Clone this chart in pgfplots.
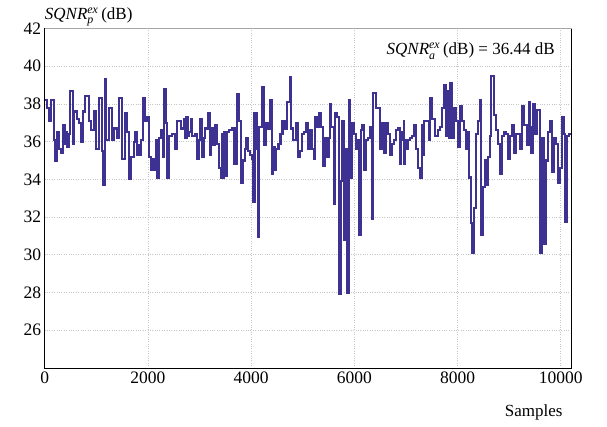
\documentclass[border=0pt]{standalone}
\usepackage{fontspec}
\setmainfont{Liberation Serif}
\usepackage{amsmath}
\usepackage{pgfplots}
\pgfplotsset{compat=1.18}
\definecolor{sqnrline}{RGB}{61,50,145}

\begin{document}
\begin{tikzpicture}[font=\fontsize{17bp}{20bp}\selectfont]
  \path[use as bounding box] (-44.7bp,-59bp) rectangle (562.3bp,368bp);
  \begin{axis}[
      scale only axis, width=527bp, height=339.5bp,
      xmin=0, xmax=10210, ymin=24, ymax=42,
      xtick={0,2000,...,10000}, ytick={26,28,...,42},
      grid=major, grid style={dotted, gray!45, line width=0.8bp},
      major tick length=0pt,
      axis line style={black, line width=0.8bp},
      tick label style={font=\fontsize{17.5bp}{20bp}\selectfont},
      /pgf/number format/assume math mode=true,
      /pgf/number format/1000 sep={},
      scaled x ticks=false,
      clip=false,
    ]
    \addplot[const plot mark left, color=sqnrline, line width=2.1bp, line join=miter]
      coordinates {
      (0,38.2) (51,37.8) (77,37.1) (115,38.2) (180,36.1) (206,35.0) (245,36.5)
      (283,35.6) (322,35.4) (354,36.9) (386,35.9) (412,36.5) (438,35.7) (464,36.4)
      (490,38.7) (541,35.9) (574,37.6) (619,37.2) (658,37.0) (703,36.0) (735,37.6)
      (787,38.4) (864,37.1) (903,36.6) (948,37.6) (993,35.6) (1045,38.3) (1103,35.5)
      (1135,33.7) (1161,39.3) (1187,36.1) (1251,37.8) (1303,36.1) (1342,36.7)
      (1393,36.2) (1445,38.3) (1497,35.1) (1548,37.5) (1600,36.5) (1639,34.0)
      (1677,35.2) (1729,36.0) (1755,36.5) (1780,35.3) (1819,35.8) (1845,35.3)
      (1871,36.1) (1896,38.3) (1935,37.1) (1974,37.3) (2026,35.2) (2051,34.5)
      (2090,35.1) (2116,34.5) (2155,36.1) (2180,34.1) (2206,36.2) (2258,36.6)
      (2284,35.2) (2309,38.8) (2348,37.0) (2374,34.1) (2413,36.3) (2464,36.4)
      (2516,35.6) (2567,37.1) (2645,36.7) (2696,37.2) (2722,36.2) (2748,37.3)
      (2774,36.3) (2800,36.5) (2826,37.2) (2851,36.3) (2916,36.4) (2942,35.1)
      (2980,36.1) (3019,37.2) (3045,35.2) (3084,36.2) (3109,36.7) (3161,37.5)
      (3200,35.3) (3225,36.7) (3264,35.8) (3303,36.9) (3342,35.9) (3380,34.6)
      (3419,34.1) (3445,36.4) (3460,34.1) (3480,36.5) (3498,34.2) (3523,36.5)
      (3562,36.6) (3627,36.7) (3678,34.8) (3717,38.5) (3756,37.1) (3807,33.8)
      (3833,35.0) (3872,35.6) (3897,36.2) (3936,35.5) (3975,35.3) (4014,35.1)
      (4039,32.8) (4065,37.5) (4104,35.6) (4130,30.95) (4155,36.8) (4207,38.9)
      (4246,35.8) (4284,37.0) (4323,36.7) (4362,38.2) (4401,34.3) (4426,35.7)
      (4452,34.5) (4478,35.6) (4530,35.9) (4568,36.4) (4607,37.1) (4659,36.7)
      (4697,38.1) (4749,39.4) (4775,36.7) (4813,36.1) (4865,37.0) (4904,35.2)
      (4942,35.5) (4981,36.4) (5020,36.5) (5059,37.0) (5097,35.6) (5136,36.6)
      (5175,35.6) (5227,35.1) (5240,37.3) (5278,36.8) (5317,37.5) (5356,36.8)
      (5394,34.7) (5433,36.2) (5472,35.2) (5498,36.2) (5523,38.0) (5549,36.8)
      (5601,32.7) (5627,37.5) (5665,37.3) (5704,27.95) (5730,33.9) (5768,37.1)
      (5794,30.8) (5820,35.6) (5859,28.0) (5897,38.2) (5923,34.1) (5949,37.0)
      (5988,36.4) (6026,35.6) (6065,36.1) (6091,31.05) (6130,36.6) (6155,36.9)
      (6194,34.5) (6233,36.1) (6272,36.2) (6310,36.8) (6336,31.9) (6362,38.6)
      (6413,37.8) (6491,35.6) (6530,37.0) (6568,35.4) (6607,37.0) (6646,36.4)
      (6684,35.3) (6723,35.9) (6762,36.1) (6801,36.6) (6839,36.7) (6878,34.8)
      (6904,36.5) (6930,36.1) (6956,37.1) (6969,34.8) (6982,36.1) (7020,35.6)
      (7046,36.1) (7085,36.2) (7123,36.3) (7162,36.9) (7201,35.6) (7227,34.6)
      (7265,34.1) (7304,36.9) (7330,35.3) (7356,37.1) (7407,37.1) (7446,36.1)
      (7472,38.3) (7510,37.2) (7562,36.3) (7614,36.6) (7652,36.8) (7691,37.8)
      (7730,39.0) (7768,36.3) (7794,38.7) (7833,36.2) (7859,39.1) (7897,36.2)
      (7923,37.8) (7962,37.1) (8001,35.7) (8039,37.9) (8078,37.1) (8117,36.6)
      (8155,35.6) (8194,36.5) (8220,34.1) (8259,31.7) (8284,30.1) (8310,32.5)
      (8349,36.4) (8388,37.1) (8426,38.2) (8452,31.05) (8491,33.6) (8530,35.0)
      (8555,33.7) (8581,35.2) (8620,36.3) (8647,39.5) (8698,37.4) (8737,36.6)
      (8776,35.9) (8815,34.3) (8853,36.3) (8892,36.5) (8931,36.4) (8982,35.1)
      (9021,36.3) (9047,36.9) (9085,35.4) (9124,36.4) (9202,35.6) (9240,37.9)
      (9292,36.9) (9343,35.8) (9382,38.1) (9408,36.8) (9421,35.4) (9459,38.0)
      (9498,36.4) (9537,37.7) (9588,30.1) (9627,36.2) (9666,30.6) (9705,35.0)
      (9743,36.5) (9782,37.1) (9821,34.4) (9859,36.2) (9898,35.9) (9937,33.8)
      (9975,34.6) (10014,37.3) (10053,36.4) (10079,31.75) (10117,36.3)
      (10156,36.4) (10205,36.4)
      };
    \draw[gray!70, line width=1.6bp] (rel axis cs:0,1) -- (rel axis cs:1,1);
    \node[anchor=base west, inner sep=0pt] at (rel axis cs:0,1) [yshift=9bp]
      {\textit{SQNR}${}_{\textit{p}}^{\textit{ex}}$\,(dB)};
    \node[anchor=base east, inner sep=0pt] at (rel axis cs:0.968,0.922)
      {\textit{SQNR}${}_{\textit{a}}^{\textit{ex}}$\,(dB) = 36.44 dB};
    \node[anchor=base, inner sep=0pt] at (rel axis cs:0.928,0) [yshift=-48bp]
      {Samples};
  \end{axis}
\end{tikzpicture}
\end{document}
